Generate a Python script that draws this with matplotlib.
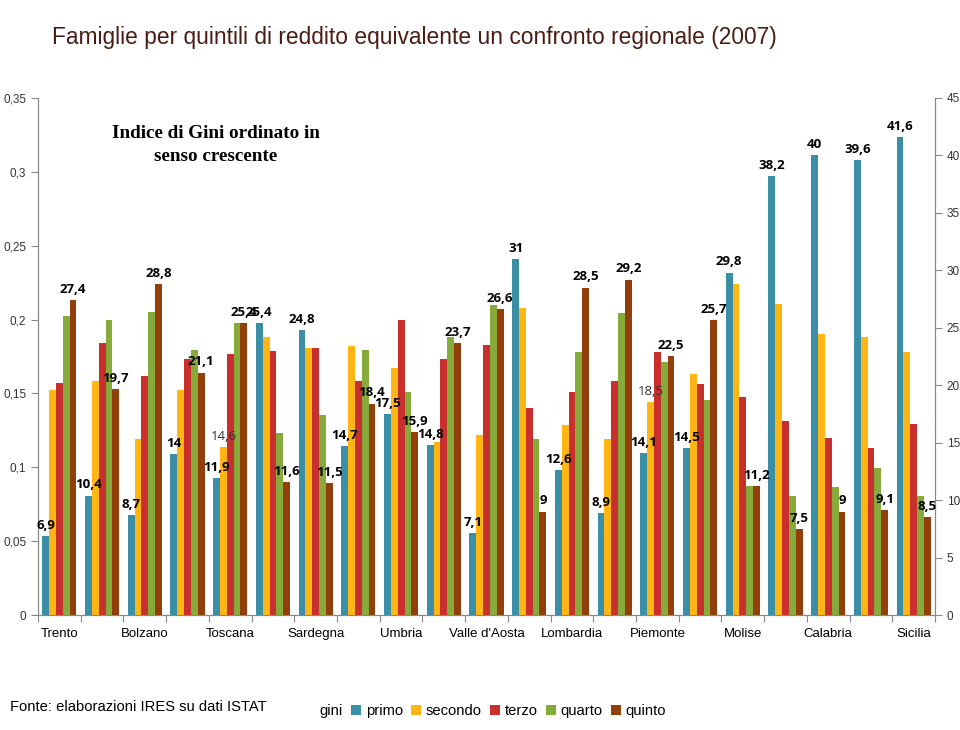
import numpy as np
import matplotlib.pyplot as plt
from matplotlib.patches import Patch
from matplotlib.ticker import FuncFormatter, MultipleLocator

# regioni (ordinate per indice di Gini crescente); nel grafico compare un'etichetta ogni due
regioni = ['Trento', 'Veneto', 'Bolzano', 'Friuli V.G.', 'Toscana', 'Basilicata',
           'Sardegna', 'Marche', 'Umbria', 'Liguria', "Valle d'Aosta", 'Abruzzo',
           'Lombardia', 'Emilia R.', 'Piemonte', 'Lazio', 'Molise', 'Puglia',
           'Calabria', 'Campania', 'Sicilia']

# quota di famiglie per quintile di reddito equivalente (%)
primo = [6.9, 10.4, 8.7, 14.0, 11.9, 25.4, 24.8, 14.7, 17.5, 14.8, 7.1,
         31.0, 12.6, 8.9, 14.1, 14.5, 29.8, 38.2, 40.0, 39.6, 41.6]
secondo = [19.6, 20.4, 15.3, 19.6, 14.6, 24.2, 23.2, 23.4, 21.5, 15.1, 15.7,
           26.7, 16.5, 15.3, 18.5, 21.0, 28.8, 27.1, 24.5, 24.2, 22.9]
terzo = [20.2, 23.7, 20.8, 22.3, 22.7, 23.0, 23.2, 20.4, 25.7, 22.3, 23.5,
         18.0, 19.4, 20.4, 22.9, 20.1, 19.0, 16.9, 15.4, 14.5, 16.6]
quarto = [26.0, 25.7, 26.4, 23.1, 25.4, 15.8, 17.4, 23.1, 19.4, 24.2, 27.0,
          15.3, 22.9, 26.3, 22.0, 18.7, 11.2, 10.4, 11.1, 12.8, 10.4]
quinto = [27.4, 19.7, 28.8, 21.1, 25.4, 11.6, 11.5, 18.4, 15.9, 23.7, 26.6,
          9.0, 28.5, 29.2, 22.5, 25.7, 11.2, 7.5, 9.0, 9.1, 8.5]

# etichette non in grassetto sul secondo quintile (Toscana, Piemonte)
secondo_etichettati = [4, 14]

serie = [('primo', primo, '#3a8fa6'), ('secondo', secondo, '#ffb612'),
         ('terzo', terzo, '#c8302e'), ('quarto', quarto, '#87ab3a'),
         ('quinto', quinto, '#923f0b')]

plt.rcParams['font.family'] = ['Liberation Sans', 'DejaVu Sans']

fig = plt.figure(figsize=(9.6, 7.3), dpi=100)
ax = fig.add_axes([0.0396, 0.1575, 0.9344, 0.7083])
ax2 = ax.twinx()

x = np.arange(len(regioni))
w = 0.16
for i, (nome, valori, colore) in enumerate(serie):
    pos = x + (i - 2) * w
    ax2.bar(pos, valori, width=w, color=colore, linewidth=0, label=nome)
    if nome in ('primo', 'quinto'):
        for xp, v in zip(pos, valori):
            ax2.annotate(f'{v:g}'.replace('.', ','), (xp, v), xytext=(0, 3),
                         textcoords='offset points', ha='center', va='bottom',
                         fontsize=9.5, fontweight='bold', family='Open Sans', color='black')
    if nome == 'secondo':
        for k in secondo_etichettati:
            ax2.annotate(f'{valori[k]:g}'.replace('.', ','), (pos[k], valori[k]),
                         xytext=(0, 3), textcoords='offset points', ha='center',
                         va='bottom', fontsize=9.5, family='Open Sans', color='#333333')

# --- assi ---
ax.set_xlim(-0.5, len(regioni) - 0.5)
ax.set_ylim(0, 0.35)
ax2.set_ylim(0, 45)
ax.yaxis.set_major_locator(MultipleLocator(0.05))
ax2.yaxis.set_major_locator(MultipleLocator(5))
ax.yaxis.set_major_formatter(FuncFormatter(lambda v, p: f'{v:.2f}'.rstrip('0').rstrip('.').replace('.', ',')))

ax.set_xticks(np.arange(-0.5, len(regioni), 1.0))
ax.set_xticklabels([])
ax.set_xticks(x[::2], minor=True)
ax.set_xticklabels(regioni[::2], minor=True, fontsize=9.5)
ax.tick_params(axis='x', which='minor', length=0, pad=9)
ax.tick_params(axis='x', which='major', length=5, color='#888888')
ax.tick_params(axis='y', labelsize=8.5, labelcolor='#333333', color='#888888', length=5)
ax2.tick_params(axis='y', labelsize=8.5, labelcolor='#333333', color='#888888', length=5)

for a in (ax, ax2):
    a.spines['top'].set_visible(False)
    for s in ('left', 'right', 'bottom'):
        a.spines[s].set_color('#888888')
ax2.set_zorder(ax.get_zorder() + 1)
ax.patch.set_visible(False)

# --- testi ---
fig.text(0.054, 0.949, 'Famiglie per quintili di reddito equivalente un confronto regionale (2007)',
         fontsize=16.4, color='#4a1c14', va='center')
ax.text(0.198, 0.948, 'Indice di Gini ordinato in\nsenso crescente', transform=ax.transAxes,
        ha='center', va='top', fontsize=13.8, fontweight='bold', family='Liberation Serif',
        linespacing=1.45)
fig.text(0.010, 0.031, 'Fonte: elaborazioni IRES su dati ISTAT', fontsize=10.6, va='center')

handles = [Patch(facecolor='none', edgecolor='none', label='gini')]
handles += [Patch(facecolor=c, edgecolor='none', label=n) for n, _, c in serie]
leg = fig.legend(handles=handles, loc='center left', bbox_to_anchor=(0.304, 0.026),
                 ncol=6, frameon=False, fontsize=10.6, handlelength=0.7, handleheight=0.7,
                 handletextpad=0.3, columnspacing=0.55)
leg.legend_handles[0].set_visible(False)

plt.savefig('out.png', dpi=100)
plt.close()
